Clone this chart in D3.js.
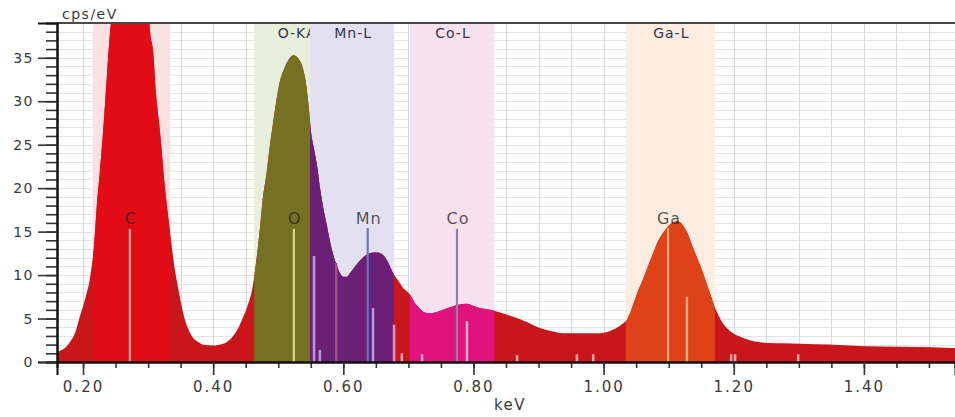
<!DOCTYPE html>
<html>
<head>
<meta charset="utf-8">
<script src="https://cdn.jsdelivr.net/npm/d3@7/dist/d3.min.js"></script>
<style>
  body { margin: 0; background: #fff; }
  svg { display: block; font-family: 'DejaVu Sans', Verdana, sans-serif; }
</style>
</head>
<body>
<div id="chart"></div>
<script>
// spectrum (keV, cps/eV)
const energy = [
  0.160, 0.172, 0.180, 0.188, 0.195, 0.203, 0.211, 0.217, 0.221, 0.226,
  0.231, 0.235, 0.238, 0.241, 0.246, 0.254, 0.263, 0.274, 0.284, 0.294,
  0.300, 0.303, 0.308, 0.312, 0.318, 0.326, 0.334, 0.340, 0.344, 0.349,
  0.354, 0.361, 0.369, 0.377, 0.384, 0.400, 0.415, 0.426, 0.437, 0.444,
  0.452, 0.461, 0.466, 0.472, 0.476, 0.482, 0.487, 0.492, 0.498, 0.502,
  0.509, 0.513, 0.519, 0.524, 0.530, 0.536, 0.541, 0.544, 0.547, 0.550,
  0.555, 0.560, 0.564, 0.569, 0.575, 0.580, 0.585, 0.591, 0.595, 0.600,
  0.606, 0.610, 0.618, 0.626, 0.635, 0.646, 0.653, 0.661, 0.668, 0.676,
  0.684, 0.692, 0.702, 0.710, 0.718, 0.725, 0.733, 0.741, 0.749, 0.764,
  0.776, 0.790, 0.805, 0.818, 0.825, 0.841, 0.861, 0.882, 0.902, 0.922,
  0.938, 0.953, 0.976, 0.994, 1.014, 1.029, 1.037, 1.045, 1.052, 1.060,
  1.068, 1.076, 1.083, 1.091, 1.099, 1.107, 1.113, 1.117, 1.123, 1.129,
  1.135, 1.143, 1.151, 1.158, 1.165, 1.171, 1.177, 1.183, 1.191, 1.199,
  1.210, 1.225, 1.251, 1.279, 1.302, 1.348, 1.405, 1.456, 1.506, 1.540
];
const counts = [
  1.15, 1.6, 2.3, 3.4, 5.2, 7.2, 9.8, 13.5, 17.8, 22.0,
  26.7, 31.0, 34.4, 37.5, 41.0, 46.0, 50.5, 52.0, 50.5, 46.0,
  41.0, 38.0, 35.5, 31.0, 26.7, 20.0, 14.8, 11.2, 9.4, 7.4,
  5.6, 3.9, 2.8, 2.3, 2.0, 1.9, 2.1, 2.6, 3.7, 4.8,
  6.3, 8.8, 11.5, 15.5, 18.6, 21.7, 24.8, 27.5, 30.5, 32.1,
  33.7, 34.4, 35.1, 35.3, 35.0, 34.2, 32.8, 31.3, 29.2, 26.7,
  24.5, 22.4, 20.1, 17.8, 15.6, 13.7, 12.2, 10.9, 10.2, 9.8,
  9.8, 10.2, 11.0, 11.7, 12.3, 12.6, 12.6, 12.3, 11.6, 10.3,
  9.4, 8.5, 7.8, 6.8, 6.1, 5.7, 5.6, 5.7, 5.9, 6.3,
  6.6, 6.7, 6.3, 6.1, 6.0, 5.7, 5.2, 4.6, 3.9, 3.5,
  3.3, 3.3, 3.3, 3.3, 3.7, 4.4, 5.0, 6.5, 8.0, 9.4,
  11.0, 12.5, 13.8, 14.8, 15.6, 16.1, 16.2, 16.1, 15.6, 14.8,
  13.6, 12.1, 10.6, 9.1, 7.6, 6.3, 5.3, 4.5, 3.8, 3.3,
  2.9, 2.5, 2.2, 2.15, 2.1, 2.0, 1.8, 1.75, 1.7, 1.6
];

// element regions of interest (keV)
const bandLabels = ['C-KA', 'O-KA', 'Mn-L', 'Co-L', 'Ga-L'];
const bandFrom = [0.215, 0.463, 0.549, 0.702, 1.034];
const bandTo = [0.334, 0.592, 0.678, 0.832, 1.171];

// marker lines (keV, cps/eV)
const lineEnergy = [
  0.272, 0.524, 0.555, 0.564, 0.589, 0.6375, 0.6456, 0.678, 0.690, 0.721,
  0.7747, 0.790, 0.867, 0.959, 0.984, 1.099, 1.128, 1.196, 1.202, 1.299
];
const lineHeight = [
  15.3, 15.3, 12.2, 1.4, 11.4, 15.4, 6.2, 4.3, 1.0, 0.9,
  15.3, 4.7, 0.8, 0.9, 0.9, 15.4, 7.5, 0.9, 0.9, 0.9
];

// element labels
const peakLabels = ['C', 'O', 'Mn', 'Co', 'Ga'];
const peakEnergy = [0.272, 0.524, 0.6375, 0.7747, 1.099];

// axes
const xDomain = [0.16, 1.54];
const yDomain = [0, 39];
const xMajor = [0.2, 0.4, 0.6, 0.8, 1.0, 1.2, 1.4];
const yMajor = [0, 5, 10, 15, 20, 25, 30, 35];

// styles
const BAND_BG = ['#fbe2e2', '#e7efdc', '#e3e1f1', '#f8e1ee', '#fdede1'];
const BAND_FILL = ['#e10c16', '#767022', '#6c1f76', '#df137b', '#df4218'];
const BASE_FILL = '#c9161b';
const LINE_COLORS = [
  '#f5a3a0', '#d3dc86', '#b496e2', '#b496e2', '#a0507f', '#6675bd', '#b69ce2', '#e98fb2', '#f3a3b3', '#f3a3c3',
  '#8e80ae', '#f5a8d0', '#f3a3a3', '#f3a3a3', '#f3a3a3', '#f7a97c', '#f7a97c', '#f3a3a3', '#f3a3a3', '#f3a3a3'
];
const TEXT_COLOR = '#3a3a3a';

const WIDTH = 955;
const HEIGHT = 417;
const MARGIN_LEFT = 57;
const MARGIN_TOP = 23;
const PLOT_BOTTOM = 362;

const $svg = d3.select('#chart').append('svg')
  .attr('width', WIDTH)
  .attr('height', HEIGHT);

const scaleX = d3.scaleLinear().domain(xDomain).range([MARGIN_LEFT, WIDTH]);
const scaleY = d3.scaleLinear().domain(yDomain).range([PLOT_BOTTOM, MARGIN_TOP]);

$svg.append('clipPath').attr('id', 'plot-clip')
  .append('rect')
  .attr('x', MARGIN_LEFT).attr('y', MARGIN_TOP)
  .attr('width', WIDTH - MARGIN_LEFT).attr('height', PLOT_BOTTOM - MARGIN_TOP);

const $plot = $svg.append('g').attr('clip-path', 'url(#plot-clip)');

// grid
const gridX = d3.range(0.20, 1.5001, 0.05);
const gridY = d3.range(1, 39, 1);
$plot.append('g').selectAll('line').data(gridY).join('line')
  .attr('x1', MARGIN_LEFT).attr('x2', WIDTH)
  .attr('y1', d => Math.round(scaleY(d)) + 0.5).attr('y2', d => Math.round(scaleY(d)) + 0.5)
  .attr('stroke', '#e4e4e4');
$plot.append('g').selectAll('line').data(gridX).join('line')
  .attr('x1', d => Math.round(scaleX(d)) + 0.5).attr('x2', d => Math.round(scaleX(d)) + 0.5)
  .attr('y1', MARGIN_TOP).attr('y2', PLOT_BOTTOM)
  .attr('stroke', '#d8d8d8');

// bands with their labels (later bands cover earlier ones)
bandLabels.forEach((label, i) => {
  const x0 = scaleX(bandFrom[i]);
  const x1 = scaleX(bandTo[i]);
  $plot.append('rect')
    .attr('x', x0).attr('y', MARGIN_TOP)
    .attr('width', x1 - x0).attr('height', PLOT_BOTTOM - MARGIN_TOP)
    .attr('fill', BAND_BG[i]);
  $plot.append('text')
    .attr('x', (x0 + x1) / 2 + 1)
    .attr('y', 38)
    .attr('text-anchor', 'middle')
    .attr('font-size', 14)
    .attr('letter-spacing', 1)
    .attr('fill', '#35354a')
    .text(label);
});

// spectrum
const points = energy.map((e, i) => [e, counts[i]]);
const area = d3.area()
  .x(d => scaleX(d[0]))
  .y0(scaleY(0))
  .y1(d => scaleY(d[1]))
  .curve(d3.curveMonotoneX);

$plot.append('path').datum(points)
  .attr('d', area)
  .attr('fill', BASE_FILL);

bandLabels.forEach((label, i) => {
  const id = `band-clip-${i}`;
  $svg.append('clipPath').attr('id', id)
    .append('rect')
    .attr('x', scaleX(bandFrom[i])).attr('y', MARGIN_TOP)
    .attr('width', scaleX(bandTo[i]) - scaleX(bandFrom[i]))
    .attr('height', PLOT_BOTTOM - MARGIN_TOP);
  $plot.append('g').attr('clip-path', `url(#${id})`)
    .append('path').datum(points)
    .attr('d', area)
    .attr('fill', BAND_FILL[i]);
});

// marker lines
$plot.append('g').selectAll('line').data(lineEnergy).join('line')
  .attr('x1', d => scaleX(d)).attr('x2', d => scaleX(d))
  .attr('y1', scaleY(0))
  .attr('y2', (d, i) => scaleY(lineHeight[i]))
  .attr('stroke', (d, i) => LINE_COLORS[i])
  .attr('stroke-width', (d, i) => (lineHeight[i] > 14 ? 2.2 : 2.5));

// element labels
$plot.append('g').selectAll('text').data(peakLabels).join('text')
  .attr('x', (d, i) => scaleX(peakEnergy[i]) + 1)
  .attr('y', scaleY(15.3) - 5)
  .attr('text-anchor', 'middle')
  .attr('font-size', 16)
  .attr('letter-spacing', 1)
  .attr('fill', '#1e1e1e')
  .attr('fill-opacity', 0.75)
  .text(d => d);

// frame
$svg.append('line')
  .attr('x1', MARGIN_LEFT).attr('x2', WIDTH)
  .attr('y1', MARGIN_TOP).attr('y2', MARGIN_TOP)
  .attr('stroke', '#4a4a4a').attr('stroke-width', 2);

// y axis
const $yAxis = $svg.append('g')
  .attr('transform', `translate(${MARGIN_LEFT}, 0)`)
  .call(d3.axisLeft(scaleY).tickValues(d3.range(0, 39, 1)).tickSize(11).tickFormat(''));
$yAxis.append('g')
  .call(d3.axisLeft(scaleY).tickValues(yMajor).tickSize(19).tickFormat(d3.format('d')));
$yAxis.selectAll('.domain').attr('stroke', '#111').attr('stroke-width', 2);
$yAxis.selectAll('.tick line').attr('stroke', '#333').attr('stroke-width', 1.6);
$yAxis.selectAll('.tick text')
  .attr('x', -23)
  .attr('font-family', "'DejaVu Sans', Verdana, sans-serif")
  .attr('font-size', 14)
  .attr('letter-spacing', 1.5)
  .attr('fill', TEXT_COLOR);

// x axis
const $xAxis = $svg.append('g')
  .attr('transform', `translate(0, ${PLOT_BOTTOM})`)
  .call(d3.axisBottom(scaleX).tickValues(d3.range(0.20, 1.5001, 0.05)).tickSize(6).tickFormat(''));
$xAxis.append('g')
  .call(d3.axisBottom(scaleX).tickValues(xMajor).tickSize(13).tickFormat(d3.format('.2f')));
$xAxis.selectAll('.domain').attr('stroke', '#111').attr('stroke-width', 2);
$xAxis.selectAll('.tick line').attr('stroke', '#333').attr('stroke-width', 1.6);
$xAxis.selectAll('.tick text')
  .attr('y', 19)
  .attr('font-family', "'DejaVu Sans', Verdana, sans-serif")
  .attr('font-size', 15)
  .attr('letter-spacing', 2)
  .attr('fill', TEXT_COLOR);

// axis titles
$svg.append('text')
  .attr('x', 62).attr('y', 19)
  .attr('font-size', 14)
  .attr('letter-spacing', 1.5)
  .attr('fill', TEXT_COLOR)
  .text('cps/eV');
$svg.append('text')
  .attr('x', 510).attr('y', 410)
  .attr('text-anchor', 'middle')
  .attr('font-size', 15)
  .attr('letter-spacing', 1.5)
  .attr('fill', TEXT_COLOR)
  .text('keV');
</script>
</body>
</html>
